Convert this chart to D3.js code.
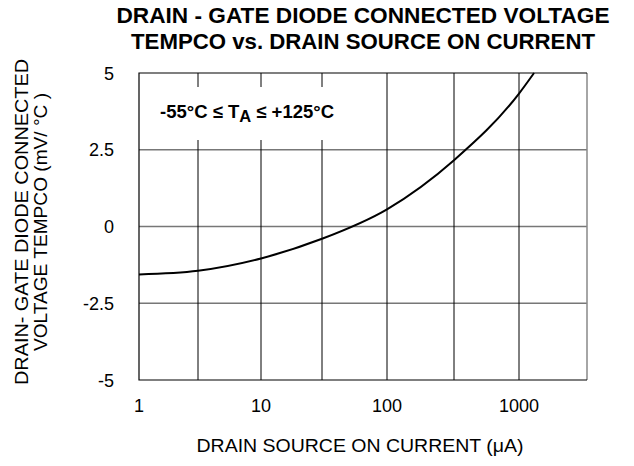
<!DOCTYPE html>
<html>
<head>
<meta charset="utf-8">
<script src="https://cdn.jsdelivr.net/npm/d3@7"></script>
<style>
  body { margin: 0; background: #fff; }
  text { font-family: "Liberation Sans", Arial, sans-serif; }
</style>
</head>
<body>
<div class="canva"></div>
<script>
// values
const currents = [1, 3.16, 10, 31.6, 100, 316, 1000, 1290]
const tempco = [-1.56, -1.44, -1.04, -0.40, 0.56, 2.16, 4.33, 5.0]
const xTicks = [1, 10, 100, 1000]
const xGrid = [3.16, 10, 31.6, 100, 316, 1000]
const yTicks = [5, 2.5, 0, -2.5, -5]
const yLabels = ['5', '2.5', '0', '-2.5', '-5']

const W = 634, H = 466
const margin = { top: 73, right: 47, bottom: 86, left: 139 }
const graphWidth = W - margin.left - margin.right
const graphHeight = H - margin.top - margin.bottom

const svg = d3.select('.canva').append('svg')
              .attr('width', W)
              .attr('height', H)

// the printed grid is not perfectly even, so the log scale is piecewise
const x = d3.scaleLog()
  .domain([1, 3.16, 10, 31.6, 100, 316, 1000, 3162])
  .range([0, 59, 122, 183, 248, 315, 380, graphWidth])
const y = d3.scaleLinear().domain([-5, 5]).range([graphHeight, 0])

const g = svg.append('g')
             .attr('transform', `translate(${margin.left},${margin.top})`)

// horizontal grid (grey)
g.selectAll('.hgrid')
  .data(yTicks.filter(d => d !== 5 && d !== -5))
  .enter().append('line')
  .attr('x1', 0).attr('x2', graphWidth)
  .attr('y1', d => y(d)).attr('y2', d => y(d))
  .attr('stroke', '#777').attr('stroke-width', 1.5)

// vertical grid (black)
g.selectAll('.vgrid')
  .data(xGrid)
  .enter().append('line')
  .attr('x1', d => x(d)).attr('x2', d => x(d))
  .attr('y1', 0).attr('y2', graphHeight)
  .attr('stroke', '#000').attr('stroke-width', 1)

// frame
g.append('line').attr('x1', graphWidth).attr('x2', graphWidth)
  .attr('y1', 0).attr('y2', graphHeight)
  .attr('stroke', '#888').attr('stroke-width', 1.5)
g.append('path')
  .attr('d', `M${graphWidth},0H0V${graphHeight}H${graphWidth}`)
  .attr('fill', 'none').attr('stroke', '#000').attr('stroke-width', 1.2)

// annotation with white box that hides the grid behind it
g.append('rect')
  .attr('x', 8).attr('y', 14).attr('width', 198).attr('height', 53)
  .attr('fill', '#fff')
const ann = g.append('text')
  .attr('x', 21).attr('y', 45)
  .attr('font-size', 18.5).attr('font-weight', 'bold')
ann.append('tspan').text('-55°C ≤ T')
ann.append('tspan').attr('font-size', 16.5).attr('dy', 4).text('A')
ann.append('tspan').attr('dy', -4).text(' ≤ +125°C')

// curve
const line = d3.line()
  .x((d, i) => x(currents[i]))
  .y(d => y(d))
  .curve(d3.curveMonotoneX)

g.append('path')
  .datum(tempco)
  .attr('fill', 'none')
  .attr('stroke', '#000')
  .attr('stroke-width', 2)
  .attr('d', line)

// tick labels
g.selectAll('.ylab')
  .data(yTicks)
  .enter().append('text')
  .attr('x', -25).attr('y', d => y(d) + 6.5)
  .attr('text-anchor', 'end')
  .attr('font-size', 18)
  .text((d, i) => yLabels[i])

g.selectAll('.xlab')
  .data(xTicks)
  .enter().append('text')
  .attr('x', d => x(d)).attr('y', graphHeight + 32)
  .attr('text-anchor', 'middle')
  .attr('font-size', 18)
  .text(d => d)

// titles
svg.append('text')
  .attr('x', margin.left + graphWidth / 2).attr('y', 23)
  .attr('text-anchor', 'middle')
  .attr('font-size', 22).attr('font-weight', 'bold')
  .attr('textLength', 493).attr('lengthAdjust', 'spacingAndGlyphs')
  .text('DRAIN - GATE DIODE CONNECTED VOLTAGE')
svg.append('text')
  .attr('x', margin.left + graphWidth / 2).attr('y', 49)
  .attr('text-anchor', 'middle')
  .attr('font-size', 22).attr('font-weight', 'bold')
  .attr('textLength', 464).attr('lengthAdjust', 'spacingAndGlyphs')
  .text('TEMPCO vs. DRAIN SOURCE ON CURRENT')

svg.append('text')
  .attr('x', 360).attr('y', H - 14)
  .attr('text-anchor', 'middle')
  .attr('font-size', 18)
  .attr('textLength', 327).attr('lengthAdjust', 'spacingAndGlyphs')
  .text('DRAIN SOURCE ON CURRENT (μA)')

const yTitle = svg.append('text')
  .attr('transform', `translate(0,222) rotate(-90)`)
  .attr('text-anchor', 'middle')
  .attr('font-size', 18)
yTitle.append('tspan').attr('x', 0).attr('y', 28)
  .attr('textLength', 326).attr('lengthAdjust', 'spacingAndGlyphs')
  .text('DRAIN- GATE DIODE CONNECTED')
yTitle.append('tspan').attr('x', 0).attr('y', 47)
  .attr('textLength', 258).attr('lengthAdjust', 'spacingAndGlyphs')
  .text('VOLTAGE TEMPCO (mV/ °C )')
</script>
</body>
</html>
